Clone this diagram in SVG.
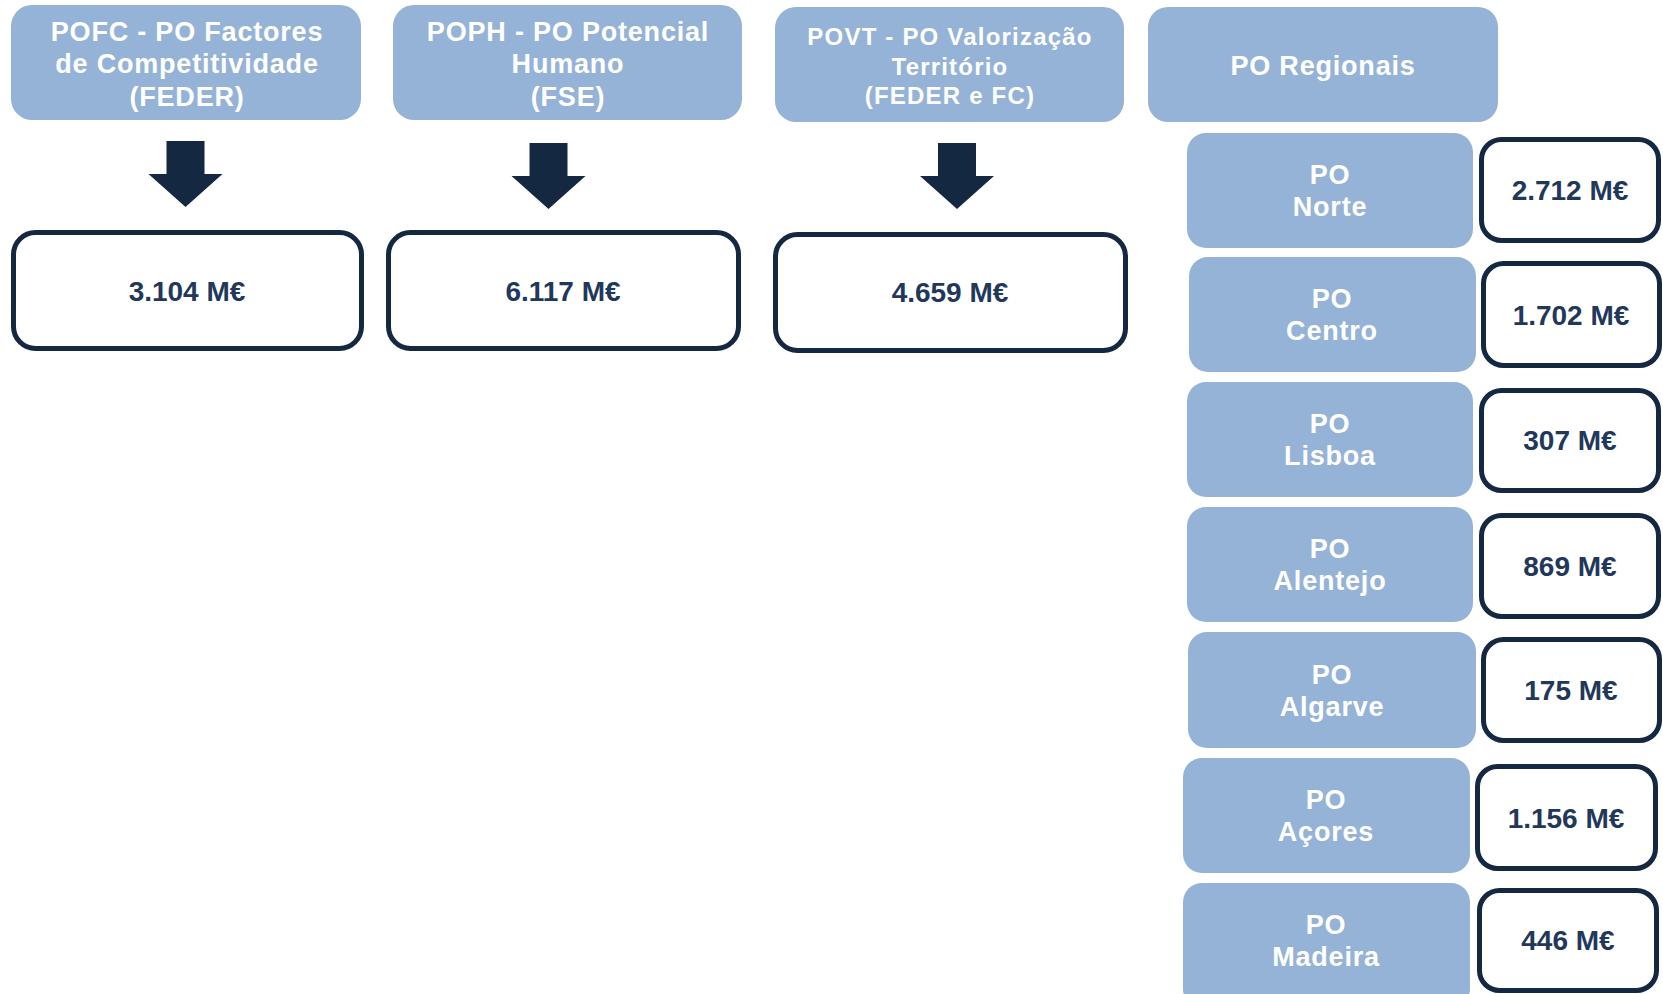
<svg xmlns="http://www.w3.org/2000/svg" width="1663" height="994" viewBox="0 0 1663 994">
<style>
.hdr{fill:#95b3d7}
.val{fill:#ffffff;stroke:#142842;stroke-width:5}
.ht{font-family:"Liberation Sans",Arial,sans-serif;font-weight:bold;fill:#ffffff;text-anchor:middle}
.h27{font-size:27px;letter-spacing:0.8px}
.h24{font-size:24px;letter-spacing:1.2px}
.rt{font-family:"Liberation Sans",Arial,sans-serif;font-weight:bold;fill:#ffffff;text-anchor:middle;font-size:27px;letter-spacing:0.8px}
.vt{font-family:"Liberation Sans",Arial,sans-serif;font-weight:bold;fill:#22385a;text-anchor:middle;font-size:28px}
.arr{fill:#142842}
</style>
<defs>
<clipPath id="clipL"><rect x="11" y="0" width="1652" height="994"/></clipPath>
</defs>
<rect x="0" y="0" width="1663" height="994" fill="#ffffff"/>

<g id="pofc">
<rect class="hdr" x="11" y="5" width="350" height="115" rx="21"/>
<text class="ht h27" x="187" y="41">POFC - PO Factores</text>
<text class="ht h27" x="187" y="73">de Competitividade</text>
<text class="ht h27" x="187" y="106">(FEDER)</text>
</g>
<g id="poph">
<rect class="hdr" x="393" y="5" width="349" height="115" rx="21"/>
<text class="ht h27" x="568" y="41">POPH - PO Potencial</text>
<text class="ht h27" x="568" y="73">Humano</text>
<text class="ht h27" x="568" y="106">(FSE)</text>
</g>
<g id="povt">
<rect class="hdr" x="775" y="7" width="349" height="115" rx="21"/>
<text class="ht h24" x="950" y="45">POVT - PO Valorização</text>
<text class="ht h24" x="950" y="75">Território</text>
<text class="ht h24" x="950" y="104">(FEDER e FC)</text>
</g>
<g id="poreg">
<rect class="hdr" x="1148" y="7" width="350" height="115" rx="20"/>
<text class="ht h27" x="1323" y="75">PO Regionais</text>
</g>

<g id="connectors">
<polygon class="arr" points="166.5,141 204.5,141 204.5,174 222.5,174 185.5,207 148.5,174 166.5,174"/>
<polygon class="arr" points="529.5,143 567.5,143 567.5,176 585.5,176 548.5,209 511.5,176 529.5,176"/>
<polygon class="arr" points="938,143 976,143 976,176 994,176 957,209 920,176 938,176"/>
</g>

<g id="v-pofc">
<rect class="val" x="13.5" y="232.5" width="348" height="116" rx="22" clip-path="url(#clipL)"/>
<text class="vt" x="187" y="301">3.104 M€</text>
</g>
<g id="v-poph">
<rect class="val" x="388.5" y="232.5" width="350" height="116" rx="22"/>
<text class="vt" x="563" y="301">6.117 M€</text>
</g>
<g id="v-povt">
<rect class="val" x="775.5" y="234.5" width="350" height="116" rx="22"/>
<text class="vt" x="950" y="302">4.659 M€</text>
</g>

<g id="norte">
<rect class="hdr" x="1187" y="133" width="286" height="115" rx="19"/>
<text class="rt" x="1330" y="184">PO</text>
<text class="rt" x="1330" y="216">Norte</text>
</g>
<g id="v-norte">
<rect class="val" x="1481.5" y="139.5" width="177" height="101" rx="20"/>
<text class="vt" x="1570" y="200">2.712 M€</text>
</g>

<g id="centro">
<rect class="hdr" x="1189" y="257" width="287" height="115" rx="19"/>
<text class="rt" x="1332" y="308">PO</text>
<text class="rt" x="1332" y="340">Centro</text>
</g>
<g id="v-centro">
<rect class="val" x="1483.5" y="263.5" width="176" height="102" rx="20"/>
<text class="vt" x="1571" y="325">1.702 M€</text>
</g>

<g id="lisboa">
<rect class="hdr" x="1187" y="382" width="286" height="115" rx="19"/>
<text class="rt" x="1330" y="433">PO</text>
<text class="rt" x="1330" y="465">Lisboa</text>
</g>
<g id="v-lisboa">
<rect class="val" x="1481.5" y="390.5" width="177" height="100" rx="20"/>
<text class="vt" x="1570" y="450">307 M€</text>
</g>

<g id="alentejo">
<rect class="hdr" x="1187" y="507" width="286" height="115" rx="19"/>
<text class="rt" x="1330" y="558">PO</text>
<text class="rt" x="1330" y="590">Alentejo</text>
</g>
<g id="v-alentejo">
<rect class="val" x="1481.5" y="515.5" width="177" height="101" rx="20"/>
<text class="vt" x="1570" y="576">869 M€</text>
</g>

<g id="algarve">
<rect class="hdr" x="1188" y="632" width="288" height="116" rx="19"/>
<text class="rt" x="1332" y="684">PO</text>
<text class="rt" x="1332" y="716">Algarve</text>
</g>
<g id="v-algarve">
<rect class="val" x="1483.5" y="639.5" width="176" height="101" rx="20"/>
<text class="vt" x="1571" y="700">175 M€</text>
</g>

<g id="acores">
<rect class="hdr" x="1183" y="758" width="287" height="115" rx="19"/>
<text class="rt" x="1326" y="809">PO</text>
<text class="rt" x="1326" y="841">Açores</text>
</g>
<g id="v-acores">
<rect class="val" x="1477.5" y="766.5" width="178" height="102" rx="20"/>
<text class="vt" x="1566" y="828">1.156 M€</text>
</g>

<g id="madeira">
<rect class="hdr" x="1183" y="883" width="287" height="125" rx="19"/>
<text class="rt" x="1326" y="934">PO</text>
<text class="rt" x="1326" y="966">Madeira</text>
</g>
<g id="v-madeira">
<rect class="val" x="1479.5" y="890.5" width="177" height="100" rx="20"/>
<text class="vt" x="1568" y="950">446 M€</text>
</g>
</svg>
